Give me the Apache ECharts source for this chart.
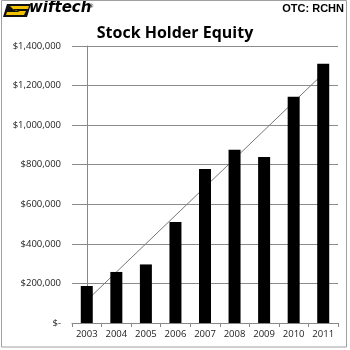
<!DOCTYPE html>
<html><head><meta charset="utf-8">
<script src="https://cdn.jsdelivr.net/npm/echarts@6/dist/echarts.min.js"></script>
<style>html,body{margin:0;padding:0;background:#fff}#c{width:350px;height:350px}</style>
</head><body><div id="c"></div>
<script>
const years = ['2003','2004','2005','2006','2007','2008','2009','2010','2011'];
const equity = [187000, 258000, 296000, 511000, 778000, 876000, 839000, 1144000, 1310000];
const trendEnds = [114000, 1260000];
const yTicks = [0, 200000, 400000, 600000, 800000, 1000000, 1200000, 1400000];

function fmt(v){ return v === 0 ? '$-' : '$' + v.toLocaleString('en-US'); }

const chart = echarts.init(document.getElementById('c'), null, {renderer:'canvas'});
chart.setOption({
  animation:false,
  backgroundColor:'#fff',
  title:{text:'Stock Holder Equity', left:'center', top:20,
    textStyle:{fontFamily:'Open Sans', fontWeight:'bold', fontSize:16, color:'#000'}},
  grid:{left:72, right:12, top:46, bottom:27},
  xAxis:[{type:'category', data:years, boundaryGap:true,
    axisLine:{lineStyle:{color:'#888'}},
    axisTick:{show:true, alignWithLabel:false, length:4, lineStyle:{color:'#888'}},
    axisLabel:{fontFamily:'Open Sans', fontSize:9.5, color:'#222', margin:6}},
   {type:'value', min:-0.5, max:years.length-0.5, show:false}],
  yAxis:{type:'value', min:yTicks[0], max:yTicks[yTicks.length-1], interval:200000,
    axisLine:{show:true, lineStyle:{color:'#888'}},
    axisTick:{show:true, length:5, lineStyle:{color:'#888'}},
    splitLine:{lineStyle:{color:'#8c8c8c', width:1}},
    axisLabel:{fontFamily:'Open Sans', fontSize:9.5, color:'#222', margin:11, formatter:fmt}},
  series:[
    {type:'line', xAxisIndex:1, data:[[0,trendEnds[0]],[years.length-1,trendEnds[1]]],
      showSymbol:false, lineStyle:{color:'#777', width:1}, z:1, silent:true},
    {type:'bar', data:equity, barWidth:12, itemStyle:{color:'#000'}, z:2}
  ],
  graphic:[
    {type:'rect', shape:{x:1.5,y:0.5,width:345,height:346.5}, style:{fill:null, stroke:'#a0a0a0', lineWidth:1}, z:100},
    {type:'polygon', shape:{points:[[7,4],[31,4],[27,17],[3,17]]}, style:{fill:'#111'}},
    {type:'polygon', shape:{points:[[10,6],[29,6],[28,9],[14,9],[16,11],[26,11],[24,15],[6,15],[7,12],[20,12],[13,9]]}, style:{fill:'#f2c200'}},
    {type:'text', left:29, top:1, style:{text:'wiftech', fontFamily:'DejaVu Sans', fontStyle:'italic', fontWeight:'bold', fontSize:15, fill:'#000'}},
    {type:'text', left:88, top:3, style:{text:'®', fontFamily:'DejaVu Sans', fontSize:6, fill:'#000'}},
    {type:'text', right:6, top:3, style:{text:'OTC: RCHN', fontFamily:'Liberation Sans', fontWeight:'bold', fontSize:11, fill:'#000'}}
  ]
});
</script></body></html>
